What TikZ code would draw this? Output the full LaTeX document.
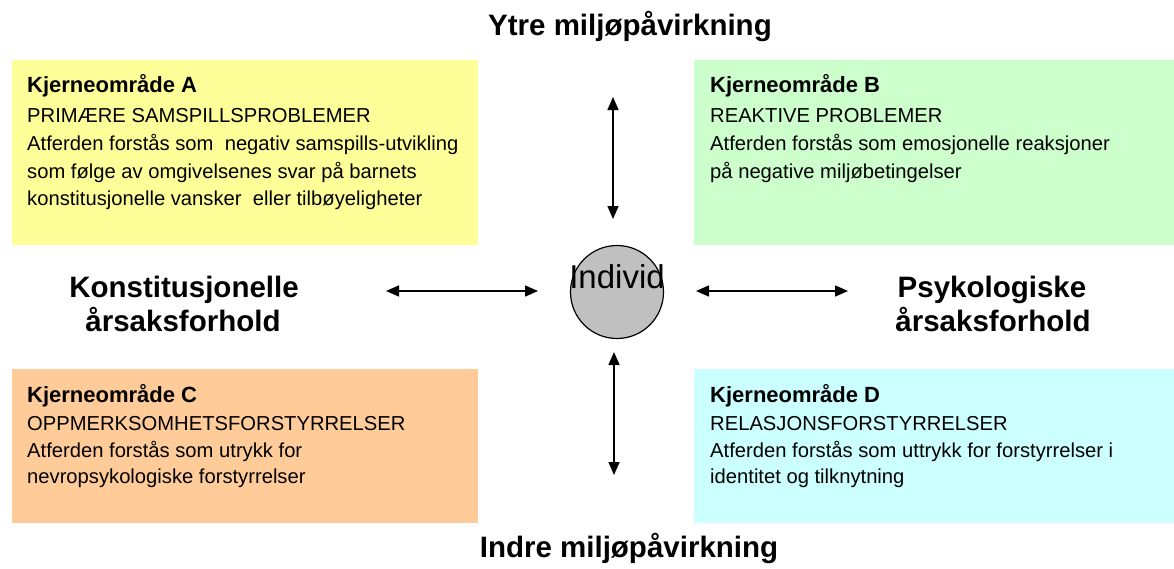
\documentclass[tikz,border=0pt]{standalone}
\usepackage{fontspec}
\setmainfont{Liberation Sans}
\usetikzlibrary{arrows.meta}
\definecolor{boxA}{HTML}{FFFF99}
\definecolor{boxB}{HTML}{CCFFCC}
\definecolor{boxC}{HTML}{FFCC99}
\definecolor{boxD}{HTML}{CCFFFF}
\definecolor{indgray}{HTML}{C0C0C0}
\begin{document}
\begin{tikzpicture}[x=1pt,y=-1pt,
  box/.style={draw=none, inner sep=0pt, outer sep=0pt, anchor=north west},
  txt/.style={anchor=base west, inner sep=0pt, font=\fontsize{20.2}{24}\selectfont},
  head/.style={anchor=base west, inner sep=0pt, font=\fontsize{22}{26}\selectfont\bfseries},
  lbl/.style={anchor=base, inner sep=0pt, font=\fontsize{29.5}{34}\selectfont\bfseries},
  arr/.style={line width=1.5pt, {Triangle[length=13pt,width=11pt]}-{Triangle[length=13pt,width=11pt]}}]
\useasboundingbox (0,0) rectangle (1174,568);
% boxes
\node[box, fill=boxA, minimum width=466pt, minimum height=185pt] (A) at (12,60) {};
\node[box, fill=boxB, minimum width=480pt, minimum height=185pt] (B) at (694,60) {};
\node[box, fill=boxC, minimum width=466pt, minimum height=154pt] (C) at (12,369) {};
\node[box, fill=boxD, minimum width=480pt, minimum height=154pt] (D) at (694,369) {};
% box A text
\node[head] (a1) at (27,92) {Kjerneområde A};
\node[txt] (a2) at (27,122) {PRIMÆRE SAMSPILLSPROBLEMER};
\node[txt] (a3) at (27,150) {Atferden forstås som~ negativ samspills-utvikling};
\node[txt] (a4) at (27,178) {som følge av omgivelsenes svar på barnets};
\node[txt] (a5) at (27,205) {konstitusjonelle vansker~ eller tilbøyeligheter};
% box B text
\node[head] (b1) at (710,92) {Kjerneområde B};
\node[txt] (b2) at (710,122) {REAKTIVE PROBLEMER};
\node[txt] (b3) at (710,150) {Atferden forstås som emosjonelle reaksjoner};
\node[txt] (b4) at (710,178) {på negative miljøbetingelser};
% box C text
\node[head] (c1) at (27,402) {Kjerneområde C};
\node[txt] (c2) at (27,430) {OPPMERKSOMHETSFORSTYRRELSER};
\node[txt] (c3) at (27,457) {Atferden forstås som utrykk for};
\node[txt] (c4) at (27,483) {nevropsykologiske forstyrrelser};
% box D text
\node[head] (d1) at (710,402) {Kjerneområde D};
\node[txt] (d2) at (710,430) {RELASJONSFORSTYRRELSER};
\node[txt] (d3) at (710,457) {Atferden forstås som uttrykk for forstyrrelser i};
\node[txt] (d4) at (710,483) {identitet og tilknytning};
% labels
\node[lbl] (ytre) at (630,35) {Ytre miljøpåvirkning};
\node[lbl] (indre) at (629,557) {Indre miljøpåvirkning};
\node[lbl] (k1) at (184,297) {Konstitusjonelle};
\node[lbl] (k2) at (183,331) {årsaksforhold};
\node[lbl] (p1) at (992,297) {Psykologiske};
\node[lbl] (p2) at (993,331) {årsaksforhold};
% individ
\node[circle, draw, line width=1.2pt, fill=indgray, minimum size=93pt, inner sep=0pt] (ind) at (617,292) {};
\node[anchor=base, inner sep=0pt, font=\fontsize{33}{38}\selectfont] (indtxt) at (617,288) {Individ};
% arrows
\coordinate (l1) at (386,291);
\coordinate (l2) at (538,291);
\coordinate (r1) at (696,291);
\coordinate (r2) at (848,291);
\coordinate (t1) at (613,97);
\coordinate (t2) at (613,219);
\coordinate (u1) at (614,352);
\coordinate (u2) at (614,475);
\draw[arr] (l1) -- (l2);
\draw[arr] (r1) -- (r2);
\draw[arr] (t1) -- (t2);
\draw[arr] (u1) -- (u2);
\end{tikzpicture}
\end{document}
